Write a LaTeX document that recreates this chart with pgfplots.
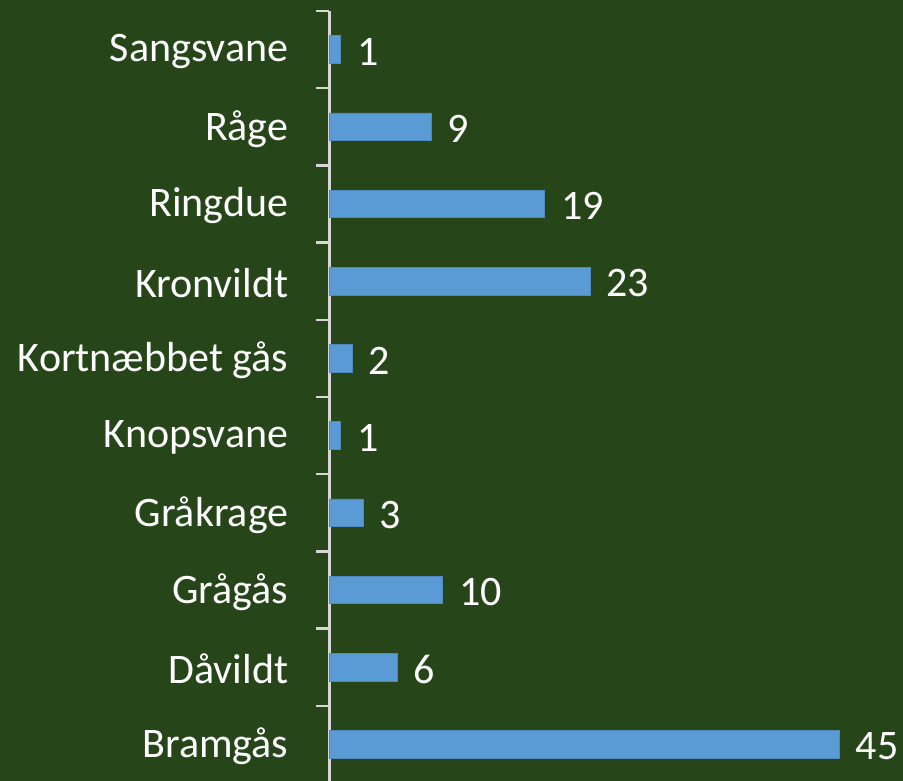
\documentclass[border=0pt]{standalone}
\usepackage{pgfplots}
\pgfplotsset{compat=1.18}
\usepackage{fontspec}
\setmainfont{Carlito}
\definecolor{bg}{HTML}{26461A}
\definecolor{barc}{HTML}{5B9BD5}
\definecolor{barb}{HTML}{4F89BF}
\definecolor{axc}{HTML}{D6D6D6}
\begin{document}
\begin{tikzpicture}
\path[use as bounding box, fill=bg] (0,0) rectangle (903pt,781pt);
\begin{axis}[
  at={(329.5pt,-2pt)}, anchor=south west,
  scale only axis, width=566.7pt, height=772pt,
  xmin=0, xmax=50, ymin=-0.5, ymax=9.5,
  axis x line=none, axis y line=left,
  axis line style={-, axc, line width=3pt},
  every outer y axis line/.append style={-, axc, line width=3pt},
  xbar, bar width=27.6pt, bar shift=0pt,
  ytick={0,...,9},
  yticklabels={Bramgås,Dåvildt,Grågås,Gråkrage,Knopsvane,Kortnæbbet gås,Kronvildt,Ringdue,Råge,Sangsvane},
  minor ytick={-0.5,0.5,...,9.5},
  major tick length=0pt, minor tick length=13pt,
  tick align=outside,
  minor tick style={axc, line width=2.5pt},
  yticklabel style={anchor=east, inner sep=0pt, xshift=-41pt, yshift=-2pt, text=white, font=\fontsize{42}{50}\selectfont},
  nodes near coords={\pgfmathprintnumber[assume math mode=true]{\pgfplotspointmeta}},
  every node near coord/.append style={anchor=west, inner sep=0pt, xshift=16pt, yshift=-2pt, text=white, font=\fontsize{42}{50}\selectfont},
  clip=false,
]
\addplot[fill=barc, draw=barb, line width=0.8pt] coordinates {
(45,0) (6,1) (10,2) (3,3) (1,4) (2,5) (23,6) (19,7) (9,8) (1,9)
};
\end{axis}
\end{tikzpicture}
\end{document}
